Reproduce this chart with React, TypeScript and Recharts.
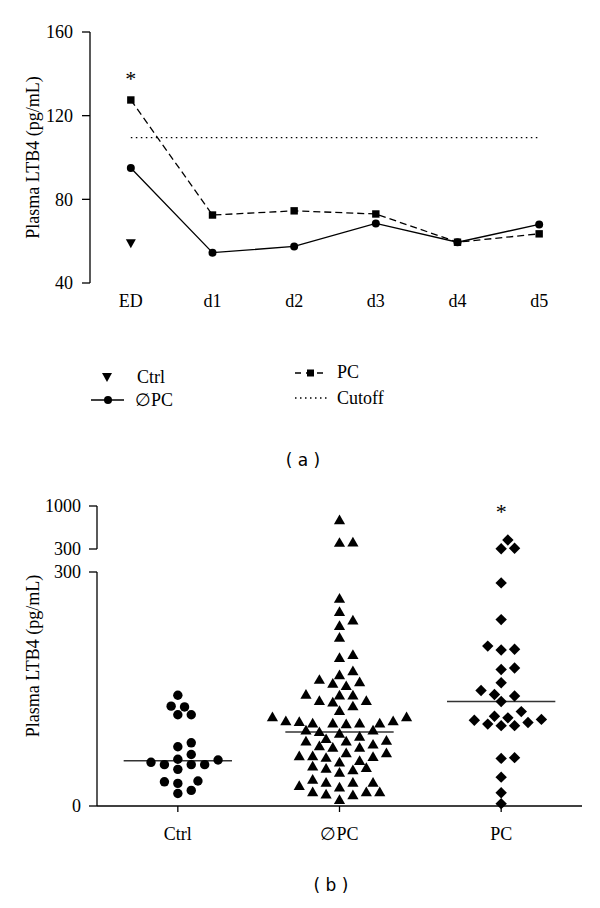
import {
  ComposedChart,
  Line,
  ReferenceDot,
  ReferenceLine,
  Scatter,
  ScatterChart,
  XAxis,
  YAxis,
} from "recharts";

const FONT = "'Liberation Serif', 'Times New Roman', serif";
const INK = "#000";

// (a) LTB4 over time
const DAYS = ["ED", "d1", "d2", "d3", "d4", "d5"];
const DAY_POS = [0.5, 1.5, 2.5, 3.5, 4.5, 5.5];
const PC_COURSE = [127.5, 72.5, 74.5, 73, 59.5, 63.5];
const NO_PC_COURSE = [95, 54.5, 57.5, 68.5, 59.5, 68];
const CTRL_LEVEL = [59];
const CUTOFF = 109.5;
const STAR_A = 138;
const A_TICKS = [40, 80, 120, 160];

// (b) single values per group
const GROUPS = ["Ctrl", "\u2205PC", "PC"];
const CTRL_VALUES = [
  142, 128, 127, 117, 117, 81, 76, 66, 59, 60, 53, 53, 53, 56, 47, 32, 29, 31,
  16, 20,
];
const NO_PC_VALUES = [
  772, 409, 403, 266, 249, 238, 231, 216, 194, 190, 173, 168, 162, 159, 154,
  157, 142, 143, 142, 135, 135, 133, 128, 122, 114, 114, 109, 108, 106, 105,
  106, 106, 106, 109, 95, 97, 97, 93, 89, 84, 83, 79, 77, 83, 86, 75, 75, 68,
  64, 64, 62, 63, 68, 56, 49, 46, 48, 51, 58, 43, 30, 30, 26, 30, 34, 24, 18,
  15, 14, 18, 18, 8,
];
const PC_VALUES = [
  446, 305, 311, 286, 239, 201, 200, 205, 175, 177, 158, 143, 141, 148, 134,
  121, 115, 111, 107, 103, 103, 105, 110, 113, 61, 62, 37, 17, 3,
];
const MEDIANS = [58, 95, 134];
const STAR_B = 910;
const BREAK = 300;
const LOW_TICKS = [0, 300];
const HIGH_TICKS = [300, 1000];

// swarm spread: marks in a row sit 2 steps apart
const STEP = 6.7;
const GAP = 9.5;
const X_UNIT_PX = 161.5;
const LOW_PX = 234 / 300;
const HIGH_PX = 43 / 700;

function swarm(values: number[], group: number, pxPerUnit: number, base: number) {
  const placed: { x: number; y: number }[] = [];
  return [...values]
    .sort((a, b) => a - b)
    .map((v) => {
      const y = (v - base) * pxPerUnit;
      let off = 0;
      for (let k = 0; k < 80; k++) {
        const c = k === 0 ? 0 : (k % 2 === 1 ? 1 : -1) * Math.ceil(k / 2) * STEP;
        if (placed.every((p) => Math.hypot(p.x - c, p.y - y) >= GAP)) {
          off = c;
          break;
        }
      }
      placed.push({ x: off, y });
      return { x: group + off / X_UNIT_PX, y: v };
    });
}

const split = (vals: number[], high: boolean) =>
  vals.filter((v) => (high ? v > BREAK : v <= BREAK));

const ALL = [CTRL_VALUES, NO_PC_VALUES, PC_VALUES];
const LOW_PTS = ALL.map((vals, i) => swarm(split(vals, false), i + 1, LOW_PX, 0));
const HIGH_PTS = ALL.map((vals, i) => swarm(split(vals, true), i + 1, HIGH_PX, BREAK));

const courseRows = DAYS.map((d, i) => ({
  x: DAY_POS[i],
  pc: PC_COURSE[i],
  nopc: NO_PC_COURSE[i],
  ctrl: CTRL_LEVEL[i] ?? null,
}));

const tickStyle = { fontFamily: FONT, fontSize: 18, fill: INK };
const labelStyle = { fontFamily: FONT, fontSize: 18, fill: INK };
const starLabel = {
  value: "*",
  position: "center" as const,
  style: { fontFamily: FONT, fontSize: 22, fill: INK },
};

const Square = (p: any) =>
  p.cy == null ? <g key={p.key} /> : (
    <rect key={p.key} x={p.cx - 3.7} y={p.cy - 3.7} width={7.4} height={7.4} fill={INK} />
  );
const Dot = (p: any) =>
  p.cy == null ? <g key={p.key} /> : (
    <circle key={p.key} cx={p.cx} cy={p.cy} r={4} fill={INK} />
  );
const DownTri = (p: any) =>
  p.cy == null ? <g key={p.key} /> : (
    <path
      key={p.key}
      d={`M${p.cx - 5},${p.cy - 4}L${p.cx + 5},${p.cy - 4}L${p.cx},${p.cy + 5}Z`}
      fill={INK}
    />
  );

const shapes = [
  (p: any) => <circle cx={p.cx} cy={p.cy} r={4.7} fill={INK} />,
  (p: any) => (
    <path
      d={`M${p.cx},${p.cy - 5.5}L${p.cx + 5.6},${p.cy + 4.2}L${p.cx - 5.6},${p.cy + 4.2}Z`}
      fill={INK}
    />
  ),
  (p: any) => (
    <path
      d={`M${p.cx},${p.cy - 5.7}L${p.cx + 5.7},${p.cy}L${p.cx},${p.cy + 5.7}L${p.cx - 5.7},${p.cy}Z`}
      fill={INK}
    />
  ),
];

function CourseLegend() {
  return (
    <svg width={600} height={60} style={{ position: "absolute", left: 0, top: 350 }}>
      <g fontFamily={FONT} fontSize={18} fill={INK}>
        <path d="M102,23L112,23L107,32Z" fill={INK} />
        <text x={137} y={33}>Ctrl</text>
        <line x1={91} y1={50} x2={124} y2={50} stroke={INK} strokeWidth={1.3} />
        <circle cx={108} cy={50} r={4} fill={INK} />
        <text x={135} y={56}>{GROUPS[1]}</text>
        <line x1={295} y1={23} x2={327} y2={23} stroke={INK} strokeWidth={1.3} strokeDasharray="6 5" />
        <rect x={307} y={19.5} width={7} height={7} fill={INK} />
        <text x={337} y={28}>PC</text>
        <line x1={295} y1={48} x2={330} y2={48} stroke={INK} strokeWidth={1.3} strokeDasharray="1.5 3.5" />
        <text x={337} y={54}>Cutoff</text>
      </g>
    </svg>
  );
}

const caption = (text: string, x: number, y: number) => (
  <div
    style={{
      position: "absolute",
      left: x - 50,
      top: y - 10,
      width: 100,
      textAlign: "center",
      fontFamily: "'DejaVu Sans', sans-serif",
      fontSize: 17,
      lineHeight: "20px",
      color: INK,
    }}
  >
    {text}
  </div>
);

export default function App() {
  return (
    <div style={{ position: "absolute", left: 0, top: 0, width: 600, height: 908, background: "#fff" }}>
      <div style={{ position: "absolute", left: 0, top: 0 }}>
        <ComposedChart width={600} height={313} data={courseRows} margin={{ top: 32, right: 20, bottom: 0, left: 0 }}>
          <XAxis
            xAxisId="tick"
            type="number"
            dataKey="x"
            domain={[0, 6]}
            ticks={[1, 2, 3, 4, 5, 6]}
            tickFormatter={() => ""}
            height={0}
            tickSize={8}
            stroke={INK}
            strokeWidth={1.3}
          />
          <XAxis
            xAxisId="lab"
            type="number"
            dataKey="x"
            domain={[0, 6]}
            ticks={DAY_POS}
            tickFormatter={(v: number) => DAYS[DAY_POS.indexOf(v)]}
            axisLine={false}
            tickLine={false}
            tickSize={0}
            tickMargin={11}
            height={30}
            tick={tickStyle}
          />
          <YAxis
            type="number"
            domain={[40, 160]}
            ticks={A_TICKS}
            width={90}
            tickSize={8}
            tickMargin={9}
            stroke={INK}
            strokeWidth={1.3}
            tick={tickStyle}
            label={{
              value: "Plasma LTB4 (pg/mL)",
              angle: -90,
              position: "center",
              dx: -12,
              style: labelStyle,
            }}
          />
          <ReferenceLine
            xAxisId="lab"
            segment={[
              { x: DAY_POS[0], y: CUTOFF },
              { x: DAY_POS[5], y: CUTOFF },
            ]}
            stroke={INK}
            strokeWidth={1.3}
            strokeDasharray="1.5 3.5"
          />
          <Line
            xAxisId="lab"
            dataKey="pc"
            stroke={INK}
            strokeWidth={1.3}
            strokeDasharray="7 4"
            dot={Square}
            isAnimationActive={false}
          />
          <Line
            xAxisId="lab"
            dataKey="nopc"
            stroke={INK}
            strokeWidth={1.3}
            dot={Dot}
            isAnimationActive={false}
          />
          <Line
            xAxisId="lab"
            dataKey="ctrl"
            stroke="none"
            dot={DownTri}
            isAnimationActive={false}
          />
          <ReferenceDot xAxisId="lab" x={DAY_POS[0]} y={STAR_A} r={0} fill="none" stroke="none" label={starLabel} />
        </ComposedChart>
      </div>

      <CourseLegend />
      {caption("( a )", 303, 460)}

      <div style={{ position: "absolute", left: 0, top: 490 }}>
        <ScatterChart width={600} height={70} margin={{ top: 16, right: 18, bottom: 11, left: 0 }}>
          <XAxis type="number" dataKey="x" domain={[0.5, 3.5]} allowDataOverflow hide />
          <YAxis
            type="number"
            dataKey="y"
            domain={[300, 1000]}
            ticks={HIGH_TICKS}
            width={97}
            tickSize={8}
            tickMargin={8}
            stroke={INK}
            strokeWidth={1.3}
            tick={tickStyle}
          />
          {HIGH_PTS.map((pts, i) => (
            <Scatter key={GROUPS[i]} data={pts} shape={shapes[i]} isAnimationActive={false} />
          ))}
          <ReferenceDot x={3} y={STAR_B} r={0} fill="none" stroke="none" label={starLabel} />
        </ScatterChart>
      </div>

      <div style={{ position: "absolute", left: 0, top: 556 }}>
        <ScatterChart width={600} height={290} margin={{ top: 16, right: 18, bottom: 0, left: 0 }}>
          <XAxis
            type="number"
            dataKey="x"
            domain={[0.5, 3.5]}
            allowDataOverflow
            ticks={[1, 2, 3]}
            tickFormatter={(v: number) => GROUPS[v - 1]}
            height={40}
            tickSize={6}
            tickMargin={15}
            stroke={INK}
            strokeWidth={1.3}
            tick={tickStyle}
          />
          <YAxis
            type="number"
            dataKey="y"
            domain={[0, 300]}
            ticks={LOW_TICKS}
            width={97}
            tickSize={8}
            tickMargin={8}
            stroke={INK}
            strokeWidth={1.3}
            tick={tickStyle}
            label={{
              value: "Plasma LTB4 (pg/mL)",
              angle: -90,
              position: "center",
              dx: -16,
              dy: -33,
              style: labelStyle,
            }}
          />
          {LOW_PTS.map((pts, i) => (
            <Scatter key={GROUPS[i]} data={pts} shape={shapes[i]} isAnimationActive={false} />
          ))}
          {MEDIANS.map((m, i) => (
            <ReferenceLine
              key={"m" + i}
              segment={[
                { x: i + 1 - 0.335, y: m },
                { x: i + 1 + 0.335, y: m },
              ]}
              stroke="#333"
              strokeWidth={1.5}
            />
          ))}
        </ScatterChart>
      </div>

      {caption("( b )", 331, 885)}
    </div>
  );
}
